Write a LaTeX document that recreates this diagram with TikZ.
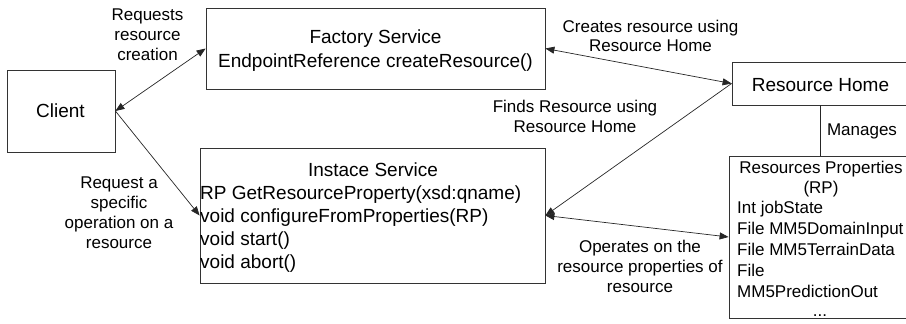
\documentclass[tikz,border=0pt]{standalone}
\usepackage{fontspec}
\setmainfont{Liberation Sans}
\usetikzlibrary{arrows.meta}
\begin{document}
\begin{tikzpicture}[x=1pt,y=-1pt,
  box/.style={draw=black!80, line width=0.8pt, inner sep=0pt},
  big/.style={font=\fontsize{19}{23}\selectfont},
  small/.style={font=\fontsize{17}{19.8}\selectfont},
  txt/.style={inner sep=0pt, anchor=base},
  lbl/.style={small, txt, align=center},
  conn/.style={line width=0.7pt, draw=black!85},
  arr/.tip={Triangle[length=9pt,width=7pt]}
]
\useasboundingbox (0,0) rectangle (906,324);
\clip (0,0) rectangle (906,324);

% boxes
\node[box, minimum width=108pt, minimum height=82pt] (client) at (61,111) {};
\node[box, minimum width=339pt, minimum height=81pt] (factory) at (375.5,48.5) {};
\node[box, minimum width=345pt, minimum height=135pt] (instance) at (372.5,215.5) {};
\node[box, minimum width=176pt, minimum height=43pt] (rh) at (820,83.5) {};
\node[box, minimum width=182pt, minimum height=162pt] (rp) at (820,237) {};

% box texts (base anchor = baseline of last line)
\node[txt, big] (tclient) at (60.5,117) {Client};
\node[txt, font=\fontsize{19}{24}\selectfont, align=center] (tfactory) at (375.5,67) {Factory Service\\EndpointReference createResource()};
\node[txt, big] (tinst) at (373,176) {Instace Service};
\node[txt, big, align=left, anchor=base west] (tinstbody) at (200,268)
  {RP GetResourceProperty(xsd:qname)\\void configureFromProperties(RP)\\void start()\\void abort()};
\node[txt, big] (trh) at (820.5,91) {Resource Home};
\node[txt, font=\fontsize{17}{20}\selectfont, align=center] (trp) at (821,193) {Resources Properties\\(RP)};
\node[txt, font=\fontsize{17}{21}\selectfont, align=left, anchor=base west] (trpbody) at (737,297)
  {Int jobState\\File MM5DomainInput\\File MM5TerrainData\\File\\MM5PredictionOut};
\node[txt, font=\fontsize{17}{20}\selectfont] (tdots) at (820,316) {...};

% connector labels
\node[lbl] (l1) at (147.5,60) {Requests\\resource\\creation};
\node[lbl] (l2) at (119,248) {Request a\\specific\\operation on a\\resource};
\node[lbl] (l3) at (650.5,52) {Creates resource using\\Resource Home};
\node[lbl] (l4) at (575,132) {Finds Resource using\\Resource Home};
\node[lbl] (l5) at (862,135) {Manages};
\node[lbl] (l6) at (640,292) {Operates on the\\resource properties of\\resource};

% connectors
\draw[conn, arr-arr] (client.east) -- (factory.west);
\draw[conn, -arr] (client.east) -- (instance.west);
\draw[conn, arr-arr] (factory.east) -- (rh.west);
\draw[conn, -arr] (rh.west) -- (instance.east);
\draw[conn, arr-arr] (instance.east) -- (rp.west);
\draw[conn] (rh.south) -- (rp.north);
\end{tikzpicture}
\end{document}
